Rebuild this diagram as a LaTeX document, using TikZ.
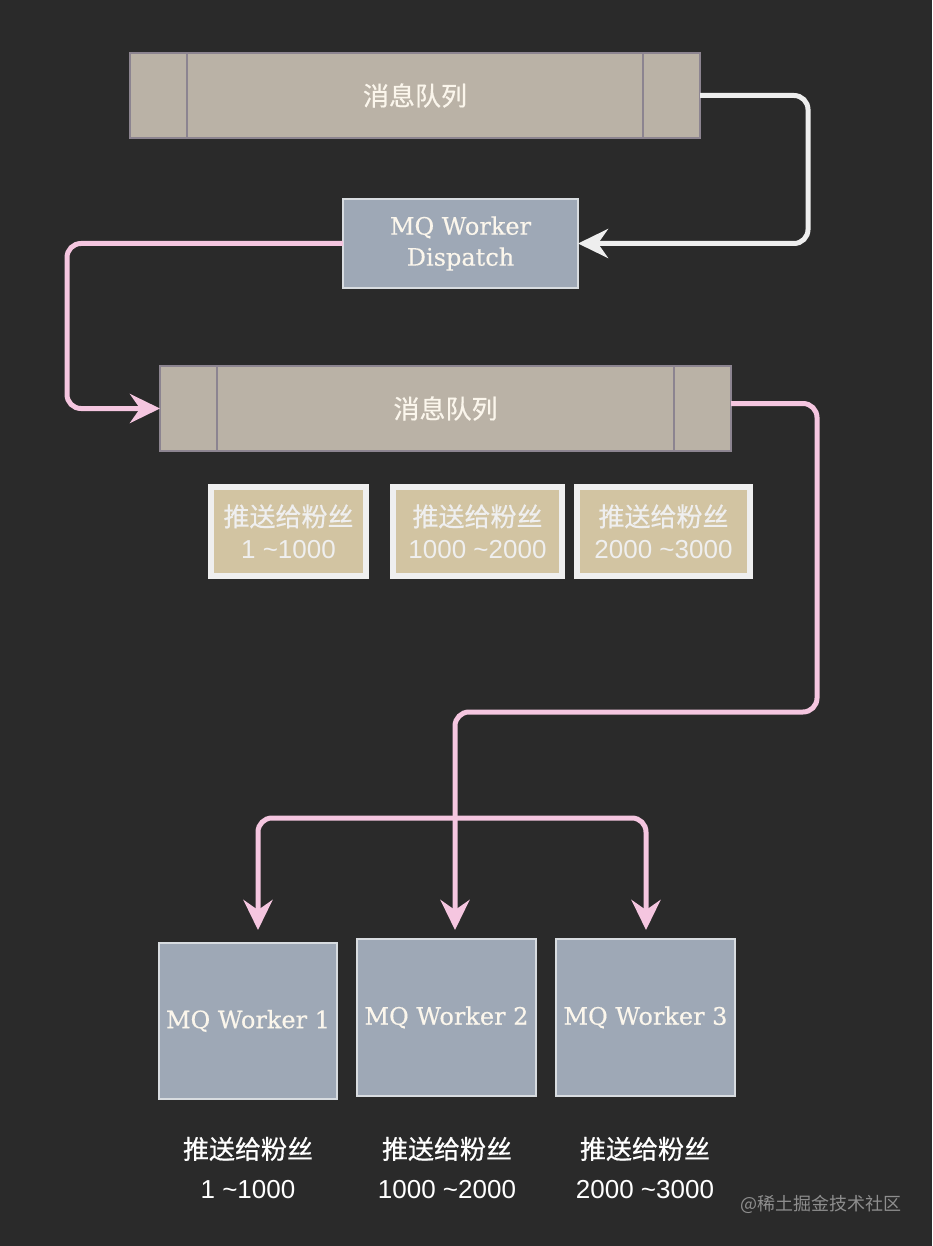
\documentclass[tikz,border=0pt]{standalone}
\usepackage{fontspec}
\setmainfont{Liberation Sans}
\newfontfamily\cjk[FakeBold=0.6]{Noto Sans CJK SC}
\newfontfamily\cjkl{Noto Sans CJK SC}
\newfontfamily\serifw[FakeBold=0.4]{DejaVu Serif}
\usetikzlibrary{arrows.meta}
\definecolor{bgc}{HTML}{2A2A2A}
\definecolor{qfill}{HTML}{BAB2A6}
\definecolor{qline}{HTML}{8C8490}
\definecolor{wfill}{HTML}{9EA8B6}
\definecolor{wline}{HTML}{D8DCE0}
\definecolor{pinkc}{HTML}{F5C6E0}
\definecolor{whitec}{HTML}{EEEEEE}
\definecolor{sfill}{HTML}{D2C4A2}
\definecolor{sline}{HTML}{EFEFEF}
\definecolor{txtc}{HTML}{FBF6EC}
\definecolor{wmark}{HTML}{8E8E8E}
\tikzset{
  queuebox/.style={draw=qline, fill=qfill, line width=2.5pt, minimum width=570pt, minimum height=85pt, inner sep=0pt, outer sep=0pt, text=txtc, font=\cjk\fontsize{26}{30}\selectfont},
  workerbox/.style={draw=wline, fill=wfill, line width=1.5pt, inner sep=0pt, outer sep=0pt, text=txtc, align=center, font=\serifw\fontsize{24}{31}\selectfont},
  smallbox/.style={draw=sline, fill=sfill, line width=6pt, minimum height=89pt, inner sep=0pt, outer sep=0pt, text=sline, align=center, font=\fontsize{26}{32}\selectfont},
  labeltext/.style={text=white, align=center, inner sep=0pt, font=\fontsize{26}{40}\selectfont},
  parrow/.style={draw=pinkc, line width=5pt, rounded corners=14pt, -{Stealth[length=30pt,width=29pt,inset=10pt]}},
  warrow/.style={draw=whitec, line width=5pt, rounded corners=14pt, -{Stealth[length=30pt,width=29pt,inset=10pt]}},
  divider/.style={draw=qline, line width=2.5pt}
}
\begin{document}
\begin{tikzpicture}[x=1pt,y=-1pt]
\fill[bgc] (0,0) rectangle (932,1246);
\useasboundingbox (0,0) rectangle (932,1246);

% top queue
\node[queuebox] (q1) at (415,95.5) {消息队列};
\draw[divider] (187,53) -- (187,138);
\draw[divider] (643,53) -- (643,138);

% dispatch
\node[workerbox, minimum width=235pt, minimum height=89pt] (d) at (460.5,243.5) {MQ Worker\\Dispatch};

% second queue
\node[queuebox, minimum width=571pt] (q2) at (445.5,408.5) {消息队列};
\draw[divider] (217,366) -- (217,451);
\draw[divider] (674,366) -- (674,451);

% small boxes
\node[smallbox, minimum width=155pt] (b1) at (288.5,531.5) {{\cjk 推送给粉丝}\\1 \textasciitilde1000};
\node[smallbox, minimum width=169pt] (b2) at (477.5,531.5) {{\cjk 推送给粉丝}\\1000 \textasciitilde2000};
\node[smallbox, minimum width=173pt] (b3) at (663.5,531.5) {{\cjk 推送给粉丝}\\2000 \textasciitilde3000};

% workers
\node[workerbox, minimum width=178pt, minimum height=156pt] (w1) at (248,1021) {MQ Worker 1};
\node[workerbox, minimum width=179pt, minimum height=157pt] (w2) at (446.5,1017.5) {MQ Worker 2};
\node[workerbox, minimum width=179pt, minimum height=157pt] (w3) at (645.5,1017.5) {MQ Worker 3};

% labels
\node[labeltext] (l1) at (248,1168) {{\cjk 推送给粉丝}\\1 \textasciitilde1000};
\node[labeltext] (l2) at (447,1168) {{\cjk 推送给粉丝}\\1000 \textasciitilde2000};
\node[labeltext] (l3) at (645,1168) {{\cjk 推送给粉丝}\\2000 \textasciitilde3000};

% watermark
\node[text=wmark, inner sep=0pt, font=\cjkl\fontsize{18}{20}\selectfont] (wm) at (821,1204) {@稀土掘金技术社区};

% connectors
\coordinate (j) at (455,712);
\coordinate (bk) at (455,818);
\coordinate (a1) at (258,930);
\coordinate (a2) at (455,930);
\coordinate (a3) at (646,930);

\draw[warrow] (q1.east) -- ++(108,0) |- (d.east);
\draw[parrow] (d.west) -- ++(-276,0) |- (q2.west);
\draw[parrow] ([yshift=5pt]q2.east) -- ++(86,0) |- (j) -- (a2);
\draw[parrow] (bk) -| (a1);
\draw[parrow] (bk) -| (a3);
\end{tikzpicture}
\end{document}
